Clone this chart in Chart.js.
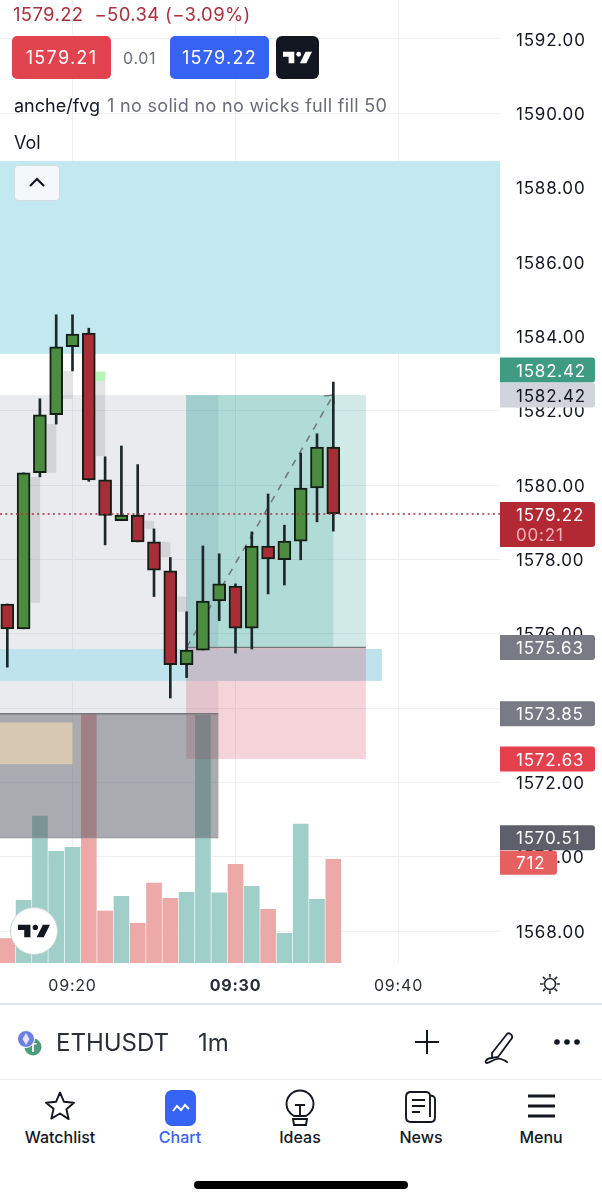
<!DOCTYPE html>
<html>
<head>
<meta charset="utf-8">
<title>ETHUSDT 1m</title>
<script src="https://cdn.jsdelivr.net/npm/chart.js@4/dist/chart.umd.min.js"></script>
<style>
  html, body { margin: 0; padding: 0; background: #fff; }
  body { width: 602px; height: 1200px; position: relative; overflow: hidden; font-family: Inter, sans-serif; color: #131722; }
  canvas { position: absolute; left: 0; top: 0; }
  .abs { position: absolute; white-space: nowrap; }
  .btn { position: absolute; top: 36px; height: 43px; line-height: 44px; width: 99px; border-radius: 5px; color: #fff; text-align: center; font-size: 18px; letter-spacing: 1.3px; }
  .tab { position: absolute; top: 1127px; width: 110px; text-align: center; font-size: 16px; font-weight: 500; color: #131722; }
  svg { position: absolute; overflow: visible; }
</style>
</head>
<body>
<canvas id="chart" width="602" height="1004"></canvas>

<!-- top legend -->
<div class="abs" style="left:13px;top:3px;font-size:18.5px;letter-spacing:.35px;color:#a8323e">1579.22&nbsp; −50.34 (−3.09%)</div>
<div class="btn" style="left:12px;background:#e2444f">1579.21</div>
<div class="abs" style="left:123px;top:48px;font-size:16px;letter-spacing:.7px;color:#6a6d78">0.01</div>
<div class="btn" style="left:170px;background:#3663f2">1579.22</div>
<div class="abs" style="left:276px;top:36px;width:43px;height:43px;border-radius:6px;background:#131722"></div>
<svg style="left:283px;top:50px" width="29" height="15" viewBox="0 5 36 16"><path fill="#fff" d="M14 6H0v6h7v8h7V6Z"/><circle fill="#fff" cx="19.5" cy="9" r="3"/><path fill="#fff" d="M28 6h8l-7 14h-8l7-14Z"/></svg>
<div class="abs" style="left:14px;top:95px;font-size:18px">anche/fvg</div>
<div class="abs" style="left:107px;top:95px;font-size:18px;letter-spacing:.32px;color:#6a6d78">1 no solid no no wicks full fill 50</div>
<div class="abs" style="left:14px;top:132px;font-size:18px">Vol</div>
<div class="abs" style="left:14px;top:165px;width:44px;height:34px;border-radius:4px;background:#f5f8fb;border:1px solid #d6dae0"></div>
<svg style="left:28px;top:176px" width="18" height="12"><path d="M2 10L9 3l7 7" fill="none" stroke="#131722" stroke-width="2.2"/></svg>

<!-- round logo on the chart -->
<div class="abs" style="left:10px;top:907px;width:46px;height:46px;border-radius:50%;background:#fff;border:1px solid #c9d6d4"></div>
<svg style="left:18px;top:923px" width="32" height="16" viewBox="0 5 36 16"><path fill="#131722" d="M14 6H0v6h7v8h7V6Z"/><circle fill="#131722" cx="19.5" cy="9" r="3"/><path fill="#131722" d="M28 6h8l-7 14h-8l7-14Z"/></svg>

<!-- gear -->
<svg style="left:539px;top:973px" width="22" height="22" viewBox="0 0 22 22" fill="none" stroke="#2a2e39" stroke-width="1.6"><circle cx="11" cy="11" r="5.5"/><path d="M11 1v3.5M11 17.5V21M1 11h3.5M17.5 11H21M3.9 3.9l2.5 2.5M15.6 15.6l2.5 2.5M3.9 18.1l2.5-2.5M15.6 6.4l2.5-2.5"/></svg>

<!-- symbol row -->
<div class="abs" style="left:0;top:1003px;width:602px;height:2px;background:#e0e3e8"></div>
<svg style="left:17px;top:1030px" width="28" height="26"><circle cx="16" cy="17" r="8.5" fill="#4a9d78"/><text x="16" y="22" font-size="12" font-weight="700" fill="#fff" text-anchor="middle" font-family="Inter">T</text><circle cx="9" cy="9" r="8.5" fill="#6d7fe0" stroke="#fff" stroke-width="1"/><path d="M9 3l3.5 6L9 15 5.500 9z" fill="#dfe4fb"/></svg>
<div class="abs" style="left:56px;top:1028px;font-size:24px;color:#2a2e39">ETHUSDT</div>
<div class="abs" style="left:198px;top:1028px;font-size:24px;color:#2a2e39">1m</div>
<svg style="left:414px;top:1029px" width="26" height="26"><path d="M13 1v24M1 13h24" stroke="#131722" stroke-width="2"/></svg>
<svg style="left:483px;top:1030px" width="32" height="36" viewBox="0 0 32 34" fill="none" stroke="#131722" stroke-width="1.8"><path d="M9 22L24 3c2-2 6 1 5 4L15 26l-6 1z"/><path d="M9 27c-6 0-8 5-5 5 4 0 8-6 14-4 3 1 5 2 6 3" stroke-linecap="round"/></svg>
<svg style="left:553px;top:1038px" width="28" height="8"><circle cx="4" cy="4" r="2.8" fill="#131722"/><circle cx="14" cy="4" r="2.8" fill="#131722"/><circle cx="24" cy="4" r="2.8" fill="#131722"/></svg>
<div class="abs" style="left:0;top:1079px;width:602px;height:1px;background:#f0f1f3"></div>

<!-- tab bar -->
<svg style="left:44px;top:1090px" width="32" height="32" viewBox="0 0 32 32"><path d="M16 2.500l4 9.300 10 .9-7.600 6.600 2.300 9.800L16 23.500 7.300 28.600l2.300-9.800L2 12.700l10-.9z" fill="none" stroke="#131722" stroke-width="1.9" stroke-linejoin="round"/></svg>
<div class="abs" style="left:165px;top:1090px;width:31px;height:36px;border-radius:7px;background:#3663f2"></div>
<svg style="left:172px;top:1102px" width="18" height="12"><path d="M1 9l4-5 4 4 4-5 4 4" fill="none" stroke="#fff" stroke-width="2"/></svg>
<svg style="left:285px;top:1089px" width="30" height="38" viewBox="0 0 30 38" fill="none" stroke="#131722" stroke-width="1.9"><path d="M9 27C4 24 1.500 19 1.500 15a13.500 13.500 0 0 1 27 0c0 4-2.500 9-7.500 12z"/><path d="M10 16h10M15 16v10"/><path d="M8 30h14l-1 6H9z" /></svg>
<svg style="left:404px;top:1090px" width="33" height="34" viewBox="0 0 33 34" fill="none" stroke="#131722" stroke-width="1.9"><path d="M26 5.500C26 3 24 2 22 2H7C4 2 2 4 2 7v20c0 3 2 5 5 5h20c3 0 4-2 4-5V9c0-2-2-3.500-5-3.500V27"/><path d="M8 10h13M8 16h13M8 22h8"/></svg>
<svg style="left:528px;top:1093px" width="27" height="26"><path d="M0 3h27M0 13h27M0 23h27" stroke="#131722" stroke-width="3"/></svg>
<div class="tab" style="left:5px">Watchlist</div>
<div class="tab" style="left:125px;color:#3663f2">Chart</div>
<div class="tab" style="left:245px">Ideas</div>
<div class="tab" style="left:366px">News</div>
<div class="tab" style="left:486px">Menu</div>
<div class="abs" style="left:194px;top:1181px;width:214px;height:8px;border-radius:4px;background:#000"></div>

<script>
// minutes past 09:00, one candle per minute
const minutes = [16, 17, 18, 19, 20, 21, 22, 23, 24, 25, 26, 27, 28, 29, 30, 31, 32, 33, 34, 35, 36];
const opens   = [1576.80, 1576.13, 1580.33, 1581.89, 1583.72, 1584.09, 1580.14, 1579.04, 1579.19, 1578.47, 1577.69, 1575.17, 1575.56, 1576.88, 1577.28, 1576.15, 1578.36, 1577.99, 1578.49, 1579.92, 1581.02];
const highs   = [1576.80, 1580.33, 1582.32, 1584.58, 1584.58, 1584.22, 1580.76, 1581.05, 1580.55, 1578.82, 1578.05, 1576.59, 1578.36, 1578.15, 1577.34, 1578.74, 1579.76, 1578.92, 1580.86, 1581.38, 1582.77];
const lows    = [1575.10, 1576.13, 1580.22, 1581.64, 1583.07, 1580.10, 1578.39, 1579.04, 1578.47, 1577.00, 1574.27, 1574.82, 1575.56, 1576.35, 1575.48, 1575.59, 1577.07, 1577.31, 1577.99, 1579.01, 1578.76];
const closes  = [1576.13, 1580.33, 1581.89, 1583.72, 1584.06, 1580.14, 1579.18, 1579.19, 1578.47, 1577.71, 1575.17, 1575.56, 1576.88, 1577.34, 1576.15, 1578.36, 1578.01, 1578.49, 1579.92, 1581.02, 1579.22];
const volumes = [168, 430, 1009, 767, 794, 1714, 357, 458, 273, 549, 444, 485, 1701, 481, 678, 527, 369, 204, 954, 437, 712];

// visible window of the chart
const firstMinute = 15.552, lastMinute = 46.227;
const lowPrice = 1567.141, highPrice = 1593.049;
const volumeCeil = 6612;

// levels from the position tool and the zones
const lastPrice = 1579.22, targetPrice = 1582.42, entryPrice = 1575.63, boxTop = 1573.85, stopPrice = 1572.63, boxBottom = 1570.51;
const tradeStart = 27, tradeFillEnd = 36, tradeEnd = 38;
const zoneEndMinute = 28.95;

// shaded rectangles, drawn in this order
const zoneStart  = [firstMinute, firstMinute, firstMinute, tradeStart - 0.03, tradeStart - 0.03, tradeStart - 0.03, firstMinute, firstMinute];
const zoneEnd    = [lastMinute, zoneEndMinute, 38.98, tradeEnd, tradeFillEnd, tradeEnd, zoneEndMinute, 20];
const zoneTop    = [1588.72, targetPrice, 1575.59, targetPrice, targetPrice, entryPrice, boxTop, 1573.61];
const zoneBottom = [1583.53, boxTop, 1574.73, entryPrice, entryPrice, stopPrice, boxBottom, 1572.49];
const zoneColors = ['#c2e9f0', 'rgba(120,125,150,0.155)', '#bfe3ec', 'rgba(0,140,125,0.18)', 'rgba(0,140,125,0.16)', 'rgba(210,60,80,0.22)', 'rgba(83,87,97,0.5)', '#d7c8b1'];

// the little gaps next to candles
const gapStart  = [17.44, 18.44, 19.44, 21.44, 24.44, 25.44, 26.44];
const gapTop    = [1580.22, 1581.64, 1583.07, 1583.05, 1579.04, 1578.47, 1577.00];
const gapBottom = [1576.83, 1580.33, 1582.32, 1580.78, 1578.82, 1578.05, 1576.59];
const gapFlash  = [1583.05, 1582.80];

// price badges on the right axis: label, price, offset in px from that price
const badgeLabels  = ['1582.42', '1582.42', '1575.63', '1573.85', '1572.63', '1570.51'];
const badgePrices  = [targetPrice, targetPrice, entryPrice, boxTop, stopPrice, boxBottom];
const badgeNudge   = [-25, 0, 0, 0, 0, 0];
const badgeFills   = ['#3f9c82', '#d1d4dc', '#787b86', '#787b86', '#e5404d', '#5d606b'];
const badgeText    = ['#fff', '#131722', '#fff', '#fff', '#fff', '#fff'];
const countdown = '00:21';
const volumeLabel = '712';

const axisFont = 'Inter, sans-serif';

const isUp = i => closes[i] >= opens[i];

function roundedBox(ctx, x, y, w, h, fill) {
  ctx.fillStyle = fill;
  ctx.beginPath();
  ctx.roundRect(x, y, w, h, [0, 3, 3, 0]);
  ctx.fill();
}

// axis text in the app is spaced out a bit
const spacingPlugin = {
  id: 'spacing',
  beforeDraw(chart) { chart.ctx.letterSpacing = '0.8px'; }
};

// zones go between the volume bars and the candles
const zonesPlugin = {
  id: 'zones',
  beforeDatasetDraw(chart, args) {
    if (args.index !== 1) return;
    const { ctx, scales: { x, y } } = chart;
    ctx.save();
    zoneStart.forEach((start, i) => {
      const left = x.getPixelForValue(start), top = y.getPixelForValue(zoneTop[i]);
      ctx.fillStyle = zoneColors[i];
      ctx.fillRect(left, top, x.getPixelForValue(zoneEnd[i]) - left, y.getPixelForValue(zoneBottom[i]) - top);
    });
    ctx.fillStyle = 'rgba(120,120,122,0.2)';
    gapStart.forEach((start, i) => {
      const left = x.getPixelForValue(start), top = y.getPixelForValue(gapTop[i]);
      ctx.fillRect(left, top, x.getPixelForValue(start + 0.57) - left, y.getPixelForValue(gapBottom[i]) - top);
    });
    // bright top of the 21:44 gap
    const flashLeft = x.getPixelForValue(21.44), flashTop = y.getPixelForValue(gapFlash[0]);
    ctx.fillStyle = '#b6f5b6';
    ctx.fillRect(flashLeft, flashTop, x.getPixelForValue(22.01) - flashLeft, y.getPixelForValue(gapFlash[1]) - flashTop);
    // edges
    ctx.strokeStyle = '#77787e';
    ctx.lineWidth = 1.5;
    ctx.beginPath();
    ctx.moveTo(x.getPixelForValue(firstMinute), y.getPixelForValue(boxTop));
    ctx.lineTo(x.getPixelForValue(zoneEndMinute), y.getPixelForValue(boxTop));
    ctx.moveTo(x.getPixelForValue(tradeStart), y.getPixelForValue(entryPrice));
    ctx.lineTo(x.getPixelForValue(tradeEnd), y.getPixelForValue(entryPrice));
    ctx.stroke();
    ctx.strokeStyle = '#8f9196';
    ctx.lineWidth = 1;
    ctx.beginPath();
    ctx.moveTo(x.getPixelForValue(firstMinute), y.getPixelForValue(boxBottom));
    ctx.lineTo(x.getPixelForValue(zoneEndMinute), y.getPixelForValue(boxBottom));
    ctx.stroke();
    // arrow head on the dashed trade line
    const tipX = x.getPixelForValue(tradeFillEnd), tipY = y.getPixelForValue(targetPrice);
    ctx.strokeStyle = '#6f7b7d';
    ctx.lineWidth = 1.5;
    ctx.beginPath();
    ctx.moveTo(tipX - 9, tipY + 1);
    ctx.lineTo(tipX, tipY);
    ctx.lineTo(tipX + 1, tipY + 9);
    ctx.stroke();
    ctx.restore();
  }
};

// badges sit on top of the axis labels
const badgesPlugin = {
  id: 'badges',
  afterDatasetsDraw(chart) {
    const { ctx, scales: { y } } = chart;
    const left = chart.chartArea.right, width = 95, textX = 516;
    ctx.save();
    ctx.textBaseline = 'middle';
    ctx.textAlign = 'left';
    ctx.font = '17px ' + axisFont;
    badgeLabels.forEach((label, i) => {
      const mid = y.getPixelForValue(badgePrices[i]) + badgeNudge[i];
      roundedBox(ctx, left, mid - 12.5, width, 25, badgeFills[i]);
      ctx.fillStyle = badgeText[i];
      ctx.fillText(label, textX, mid + 1.5);
    });
    // last price with the countdown under it
    const lastMid = y.getPixelForValue(lastPrice);
    roundedBox(ctx, left, lastMid - 12, width, 45, '#b22833');
    ctx.fillStyle = '#fff';
    ctx.fillText(lastPrice.toFixed(2), textX, lastMid + 1.5);
    ctx.fillStyle = '#f2b3b8';
    ctx.fillText(countdown, textX, lastMid + 22);
    // volume of the last bar
    const volMid = y.getPixelForValue(boxBottom) + 25;
    roundedBox(ctx, left, volMid - 12, 57, 24, '#e5605f');
    ctx.fillStyle = '#fff';
    ctx.fillText(volumeLabel, textX, volMid + 1);
    ctx.restore();
  }
};

const gridColor = '#eff0f2';

new Chart(document.getElementById('chart'), {
  type: 'bar',
  data: {
    datasets: [
      {
        label: 'Vol',
        yAxisID: 'vol',
        order: 6,
        grouped: false,
        barThickness: 15,
        data: minutes.map((m, i) => ({ x: m, y: volumes[i] })),
        backgroundColor: minutes.map((m, i) => isUp(i) ? '#a0cfc9' : '#eda8a8')
      },
      {
        type: 'line',
        label: 'Trade',
        order: 5,
        data: [{ x: tradeStart, y: entryPrice }, { x: tradeFillEnd, y: targetPrice }],
        borderColor: '#6f7b7d',
        borderWidth: 1.6,
        borderDash: [7, 7],
        pointRadius: 0
      },
      {
        label: 'Wicks',
        order: 2,
        grouped: false,
        barThickness: 2,
        data: minutes.map((m, i) => ({ x: m, y: [lows[i], highs[i]] })),
        backgroundColor: '#1c2729'
      },
      {
        label: 'Bodies',
        order: 1,
        grouped: false,
        barThickness: 13,
        borderSkipped: false,
        borderWidth: 2,
        borderColor: '#131e14',
        data: minutes.map((m, i) => ({ x: m, y: [opens[i], closes[i]] })),
        backgroundColor: minutes.map((m, i) => isUp(i) ? '#4c8c40' : '#a92d37')
      },
      {
        type: 'line',
        label: 'Last',
        order: 0,
        data: [{ x: firstMinute, y: lastPrice }, { x: lastMinute, y: lastPrice }],
        borderColor: '#a9323b',
        borderWidth: 1.5,
        borderDash: [2, 3.3],
        pointRadius: 0
      }
    ]
  },
  options: {
    responsive: false,
    animation: false,
    layout: { autoPadding: false, padding: 0 },
    plugins: { legend: { display: false }, tooltip: { enabled: false } },
    scales: {
      x: {
        type: 'linear',
        offset: false,
        min: firstMinute,
        max: lastMinute,
        afterFit: s => { s.height = 41; s.paddingLeft = 0; s.paddingRight = 0; },
        border: { display: false },
        grid: { color: gridColor, drawTicks: false, offset: false },
        ticks: {
          stepSize: 10,
          includeBounds: false,
          maxRotation: 0,
          padding: 14,
          color: '#2a2e39',
          font: c => ({ family: axisFont, size: 16, weight: c.tick && c.tick.value === 30 ? '700' : '400' }),
          callback: v => '09:' + v
        }
      },
      y: {
        position: 'right',
        min: lowPrice,
        max: highPrice,
        afterFit: s => { s.width = 102; s.paddingTop = 0; s.paddingBottom = 0; },
        border: { display: false },
        grid: { color: gridColor, drawTicks: false },
        ticks: {
          stepSize: 2,
          includeBounds: false,
          padding: 16,
          labelOffset: 1.5,
          color: '#131722',
          font: { family: axisFont, size: 17 },
          callback: v => v.toFixed(2)
        }
      },
      vol: { display: false, min: 0, max: volumeCeil }
    }
  },
  plugins: [spacingPlugin, zonesPlugin, badgesPlugin]
});
</script>
</body>
</html>
